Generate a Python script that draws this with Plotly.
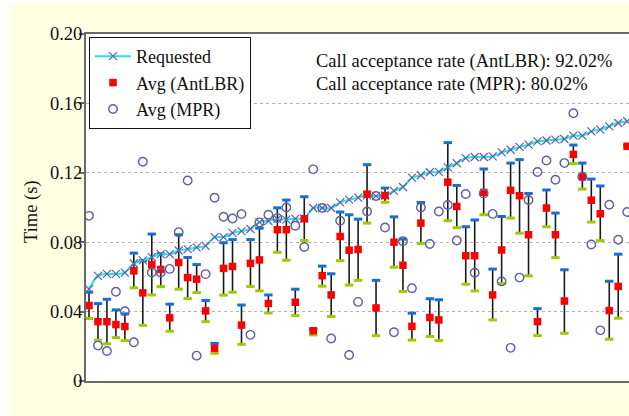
import plotly.graph_objects as go

# ---------------- data ----------------
idx = list(range(61))

requested = [0.053, 0.0606, 0.0617, 0.0617, 0.0625, 0.0677, 0.0695, 0.0714, 0.0731, 0.0731,
             0.0752, 0.076, 0.077, 0.0779, 0.0829, 0.0829, 0.0854, 0.0864, 0.0876, 0.0916,
             0.0922, 0.0934, 0.093, 0.0936, 0.0937, 0.0997, 0.0997, 0.0997, 0.103, 0.1045,
             0.1057, 0.107, 0.1066, 0.1069, 0.1096, 0.1118, 0.1172, 0.1186, 0.1203, 0.1205,
             0.1231, 0.1255, 0.1285, 0.1291, 0.1291, 0.1295, 0.1318, 0.1333, 0.1349, 0.1362,
             0.1381, 0.1386, 0.1391, 0.1395, 0.1414, 0.1414, 0.1439, 0.1449, 0.1468, 0.1487, 0.1497]

antlbr_avg = [0.0435, 0.0342, 0.0342, 0.0325, 0.0314, 0.0635, 0.0508, 0.0671, 0.0643, 0.0364,
              0.0683, 0.0596, 0.0587, 0.0404, 0.0189, 0.0649, 0.066, 0.0322, 0.0678, 0.0698,
              0.0447, 0.0872, 0.0872, 0.0454, 0.0935, 0.029, 0.0607, 0.0496, 0.0833, 0.0754,
              0.0758, 0.1077, 0.0421, 0.1069, 0.08, 0.0667, 0.0315, 0.091, 0.0366, 0.0352,
              0.1146, 0.1006, 0.0722, 0.0722, 0.1087, 0.0496, 0.0755, 0.1099, 0.1068, 0.0843,
              0.0342, 0.0997, 0.0843, 0.0461, 0.1306, 0.1177, 0.1042, 0.0964, 0.0406, 0.0545, 0.1353]

antlbr_max = [0.0512, 0.0446, 0.0471, 0.041, 0.0387, 0.0737, 0.0693, 0.0847, 0.0733, 0.0443,
              0.0843, 0.0712, 0.0671, 0.0464, 0.0217, 0.0797, 0.0815, 0.0438, 0.0815, 0.0881,
              0.0496, 0.0998, 0.1043, 0.0529, 0.1062, 0.0298, 0.0662, 0.0618, 0.0974, 0.0958,
              0.0933, 0.1247, 0.058, 0.1112, 0.0946, 0.0818, 0.0391, 0.1029, 0.0474, 0.0468,
              0.1374, 0.1127, 0.0889, 0.0928, 0.1222, 0.0645, 0.0948, 0.1256, 0.1276, 0.1081,
              0.0417, 0.1101, 0.0968, 0.0641, 0.136, 0.1256, 0.1164, 0.1124, 0.0575, 0.0731, 0.1358]

antlbr_min = [0.036, 0.0235, 0.0214, 0.025, 0.0233, 0.0537, 0.0321, 0.0496, 0.0544, 0.0287,
              0.0529, 0.0475, 0.051, 0.0342, 0.016, 0.0495, 0.0512, 0.0211, 0.0545, 0.052,
              0.0392, 0.0742, 0.0696, 0.0377, 0.081, 0.0266, 0.0547, 0.0372, 0.0693, 0.0553,
              0.058, 0.091, 0.0261, 0.103, 0.0656, 0.0516, 0.0236, 0.0793, 0.0257, 0.0233,
              0.0924, 0.0884, 0.0558, 0.0519, 0.0958, 0.0352, 0.0562, 0.0939, 0.0852, 0.0606,
              0.0262, 0.0889, 0.0711, 0.0275, 0.1253, 0.1106, 0.0916, 0.0809, 0.0241, 0.0362, 0.1348]

mpr_avg = [0.0952, 0.0204, 0.0173, 0.0514, 0.0402, 0.0223, 0.1264, 0.0625, 0.0625, 0.0646,
           0.0858, 0.1156, 0.0146, 0.0616, 0.1056, 0.0947, 0.0937, 0.0962, 0.0266, 0.0914,
           0.0958, 0.0939, 0.1, 0.0895, 0.0772, 0.122, 0.0997, 0.0245, 0.0924, 0.015,
           0.0456, 0.0977, 0.1066, 0.0885, 0.0281, 0.0806, 0.0535, 0.1, 0.079, 0.0977,
           0.1014, 0.081, 0.1078, 0.0624, 0.108, 0.0963, 0.0574, 0.0191, 0.0596, 0.1043,
           0.1205, 0.1271, 0.116, 0.1256, 0.1543, 0.1177, 0.0787, 0.0292, 0.1016, 0.0814, 0.0974]

y_ticks = [0, 0.04, 0.08, 0.12, 0.16, 0.20]
y_tick_labels = ["0", "0.04", "0.08", "0.12", "0.16", "0.20"]

legend_names = ["Requested", "Avg (AntLBR)", "Avg (MPR)"]
notes = ["Call acceptance rate (AntLBR): 92.02%", "Call acceptance rate (MPR): 80.02%"]

# ---------------- styling ----------------
FONT = "Liberation Serif, Times New Roman, serif"
FS = 18.5
SLATE = "#5F5FA3"
CYAN = "#1EE3F2"
BLUE = "#1570CF"
GREEN = "#9CCC00"
RED = "#FF0000"
YELLOW = "#FFFFE4"

W, H = 629, 416
ML, MT, MB = 86, 34, 35
plot_w = W - ML
plot_h = H - MT - MB
x0_px, dx_px = 89, 8.97
x_range = [(ML - x0_px) / dx_px, (W - x0_px) / dx_px]

def px_x(p):
    return (p - ML) / plot_w

def px_y(p):
    return (H - MB - p) / plot_h

fig = go.Figure()

err_plus = [u - m for u, m in zip(antlbr_max, antlbr_avg)]
err_minus = [m - l for m, l in zip(antlbr_avg, antlbr_min)]

# whiskers
fig.add_trace(go.Scatter(
    x=idx, y=antlbr_avg, mode="markers", showlegend=False, hoverinfo="skip",
    marker=dict(size=1, opacity=0),
    error_y=dict(type="data", symmetric=False, array=err_plus, arrayminus=err_minus,
                 color="#1a1a1a", thickness=1.6, width=0),
))
# upper caps
fig.add_trace(go.Scatter(
    x=idx, y=antlbr_max, mode="markers", showlegend=False, hoverinfo="skip",
    marker=dict(symbol="line-ew", size=6, color=BLUE, line=dict(color=BLUE, width=3)),
))
# lower caps
fig.add_trace(go.Scatter(
    x=idx, y=antlbr_min, mode="markers", showlegend=False, hoverinfo="skip",
    marker=dict(symbol="line-ew", size=6, color=GREEN, line=dict(color=GREEN, width=3)),
))
# requested
fig.add_trace(go.Scatter(
    x=idx, y=requested, mode="lines+markers", name=legend_names[0], legendrank=1,
    line=dict(color=CYAN, width=2, shape="spline", smoothing=0.8),
    marker=dict(symbol="x-thin", size=8, color=SLATE, line=dict(color=SLATE, width=1.2)),
))
# AntLBR averages
fig.add_trace(go.Scatter(
    x=idx, y=antlbr_avg, mode="markers", name=legend_names[1], legendrank=2,
    marker=dict(symbol="square", size=7.5, color=RED, line=dict(width=0)),
))
# MPR averages
fig.add_trace(go.Scatter(
    x=idx, y=mpr_avg, mode="markers", name=legend_names[2], legendrank=3,
    marker=dict(symbol="circle-open", size=8.5, color=SLATE, line=dict(color=SLATE, width=1.4)),
))

annotations = [
    dict(text=notes[0], x=px_x(314), y=px_y(62), xref="paper", yref="paper",
         xanchor="left", yanchor="middle", showarrow=False,
         font=dict(family=FONT, size=FS, color="#111111")),
    dict(text=notes[1], x=px_x(314), y=px_y(84), xref="paper", yref="paper",
         xanchor="left", yanchor="middle", showarrow=False,
         font=dict(family=FONT, size=FS, color="#111111")),
    dict(text="Time (s)", x=px_x(31), y=px_y(212), xref="paper", yref="paper",
         xanchor="center", yanchor="middle", textangle=-90, showarrow=False,
         font=dict(family=FONT, size=FS, color="#111111")),
]

shapes = [
    dict(type="rect", xref="paper", yref="paper", layer="below",
         x0=px_x(0), x1=px_x(9), y0=px_y(H + 5), y1=px_y(-5),
         fillcolor="white", line=dict(width=0)),
    dict(type="rect", xref="paper", yref="paper", layer="below",
         x0=px_x(0), x1=px_x(W + 5), y0=px_y(3), y1=px_y(-5),
         fillcolor="white", line=dict(width=0)),
]

fig.update_layout(
    width=W, height=H,
    margin=dict(l=ML, r=0, t=MT, b=MB, pad=0),
    paper_bgcolor=YELLOW, plot_bgcolor="white",
    font=dict(family=FONT, size=FS, color="#111111"),
    showlegend=True,
    legend=dict(x=px_x(89), y=px_y(37), xanchor="left", yanchor="top",
                bgcolor="white", bordercolor="#111111", borderwidth=1,
                font=dict(family=FONT, size=18, color="#111111"),
                traceorder="normal", itemwidth=36),
    xaxis=dict(range=x_range, showgrid=False, zeroline=False, showticklabels=False,
               ticks="", showline=True, linecolor="#6a6a6a", linewidth=2, mirror=True),
    yaxis=dict(range=[0, 0.2], tickvals=y_ticks, ticktext=y_tick_labels,
               showgrid=True, gridcolor="#b4b4b4", griddash="dot", gridwidth=1,
               zeroline=False, showline=True, linecolor="#6a6a6a", linewidth=2,
               ticks="outside", ticklen=5, tickcolor="#6a6a6a", tickwidth=1.5,
               ticklabelstandoff=-7,
               tickfont=dict(family=FONT, size=FS, color="#111111")),
    annotations=annotations,
    shapes=shapes,
)

fig.write_html("out.html", config={"displayModeBar": False},
               post_script="document.body.style.margin='0px';document.body.style.overflow='hidden';")
